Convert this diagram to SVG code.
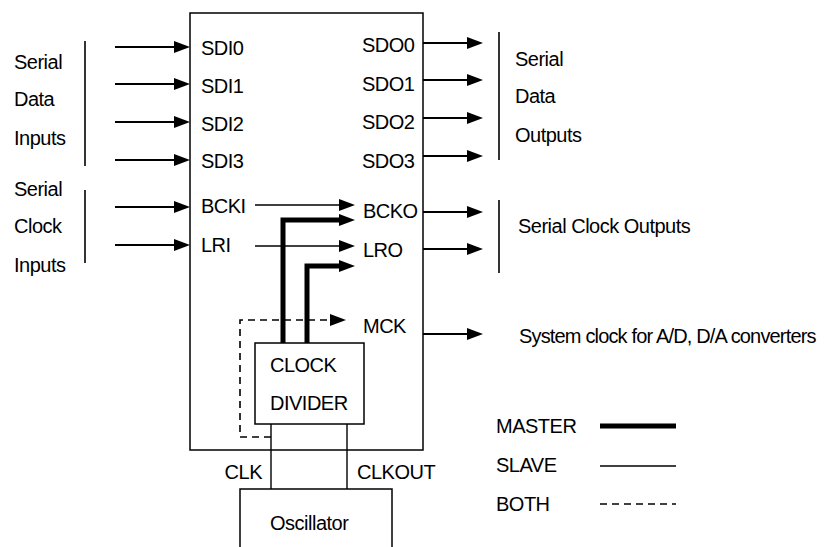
<svg xmlns="http://www.w3.org/2000/svg" width="827" height="547" viewBox="0 0 827 547">
<defs>
<style>
text{font-family:"Liberation Sans",Arial,sans-serif;font-size:20px;letter-spacing:-0.5px;fill:#000}
.box{fill:#fff;stroke:#000;stroke-width:1.5}
.io{stroke:#000;stroke-width:2;fill:none}
.thin{stroke:#000;stroke-width:1.4;fill:none}
.thick{stroke:#000;stroke-width:5;fill:none}
.dash{stroke:#000;stroke-width:1.6;fill:none;stroke-dasharray:7,5}
.brk{stroke:#000;stroke-width:1.6}
</style>
<marker id="ah" markerUnits="userSpaceOnUse" markerWidth="17" markerHeight="13" refX="0" refY="6" orient="auto">
<polygon points="0,0 16,6 0,12" fill="#000"/>
</marker>
</defs>
<rect width="827" height="547" fill="#fff"/>

<g id="main-block">
<rect class="box" x="190" y="13" width="233" height="437"/>
<text x="201" y="55">SDI0</text>
<text x="201" y="93">SDI1</text>
<text x="201" y="131">SDI2</text>
<text x="201" y="168">SDI3</text>
<text x="201" y="213">BCKI</text>
<text x="201" y="252">LRI</text>
<text x="362" y="52">SDO0</text>
<text x="362" y="91">SDO1</text>
<text x="362" y="129">SDO2</text>
<text x="362" y="168">SDO3</text>
<text x="363" y="218">BCKO</text>
<text x="363" y="257">LRO</text>
<text x="363" y="333">MCK</text>
</g>

<g id="clock-divider">
<rect class="box" x="255" y="343" width="109" height="81"/>
<text x="270" y="372">CLOCK</text>
<text x="270" y="410">DIVIDER</text>
</g>

<g id="oscillator">
<rect class="box" x="240" y="489" width="152" height="70"/>
<text x="270" y="530">Oscillator</text>
</g>

<g id="input-labels">
<line class="brk" x1="85" y1="41" x2="85" y2="166"/>
<text x="14" y="69">Serial</text>
<text x="14" y="106">Data</text>
<text x="14" y="145">Inputs</text>
<line class="brk" x1="85" y1="190" x2="85" y2="263"/>
<text x="14" y="196">Serial</text>
<text x="14" y="233">Clock</text>
<text x="14" y="272">Inputs</text>
</g>

<g id="output-labels">
<line class="brk" x1="499" y1="32" x2="499" y2="160"/>
<text x="515" y="66">Serial</text>
<text x="515" y="103">Data</text>
<text x="515" y="142">Outputs</text>
<line class="brk" x1="499" y1="200" x2="499" y2="273"/>
<text x="518" y="233">Serial Clock Outputs</text>
<text x="519" y="343" textLength="297" lengthAdjust="spacing">System clock for A/D, D/A converters</text>
</g>

<g id="pin-labels">
<text x="262" y="479" text-anchor="end">CLK</text>
<text x="357" y="479">CLKOUT</text>
</g>

<g id="legend">
<text x="496" y="433">MASTER</text>
<line class="thick" x1="600" y1="426" x2="676" y2="426"/>
<text x="496" y="472">SLAVE</text>
<line class="thin" x1="600" y1="466" x2="676" y2="466"/>
<text x="496" y="511">BOTH</text>
<line class="dash" x1="600" y1="504" x2="676" y2="504"/>
</g>

<g id="connectors">
<line class="io" x1="115" y1="47" x2="174" y2="47" marker-end="url(#ah)"/>
<line class="io" x1="115" y1="84" x2="174" y2="84" marker-end="url(#ah)"/>
<line class="io" x1="115" y1="122" x2="174" y2="122" marker-end="url(#ah)"/>
<line class="io" x1="115" y1="160" x2="174" y2="160" marker-end="url(#ah)"/>
<line class="io" x1="115" y1="207" x2="174" y2="207" marker-end="url(#ah)"/>
<line class="io" x1="115" y1="245" x2="174" y2="245" marker-end="url(#ah)"/>

<line class="io" x1="423" y1="43" x2="467" y2="43" marker-end="url(#ah)"/>
<line class="io" x1="423" y1="80" x2="467" y2="80" marker-end="url(#ah)"/>
<line class="io" x1="423" y1="118" x2="467" y2="118" marker-end="url(#ah)"/>
<line class="io" x1="423" y1="156" x2="467" y2="156" marker-end="url(#ah)"/>
<line class="io" x1="423" y1="212" x2="467" y2="212" marker-end="url(#ah)"/>
<line class="io" x1="423" y1="249" x2="467" y2="249" marker-end="url(#ah)"/>
<line class="io" x1="423" y1="334" x2="467" y2="334" marker-end="url(#ah)"/>

<line class="thin" x1="255" y1="205" x2="339" y2="205" marker-end="url(#ah)"/>
<line class="thin" x1="255" y1="246" x2="339" y2="246" marker-end="url(#ah)"/>
<path class="thick" d="M283 343 V220 H339" marker-end="url(#ah)"/>
<path class="thick" d="M307 343 V266 H339" marker-end="url(#ah)"/>
<path class="dash" d="M271 437 H240 V320 H330" marker-end="url(#ah)"/>

<line class="thin" x1="271" y1="424" x2="271" y2="489"/>
<line class="thin" x1="347" y1="424" x2="347" y2="489"/>
</g>
</svg>
